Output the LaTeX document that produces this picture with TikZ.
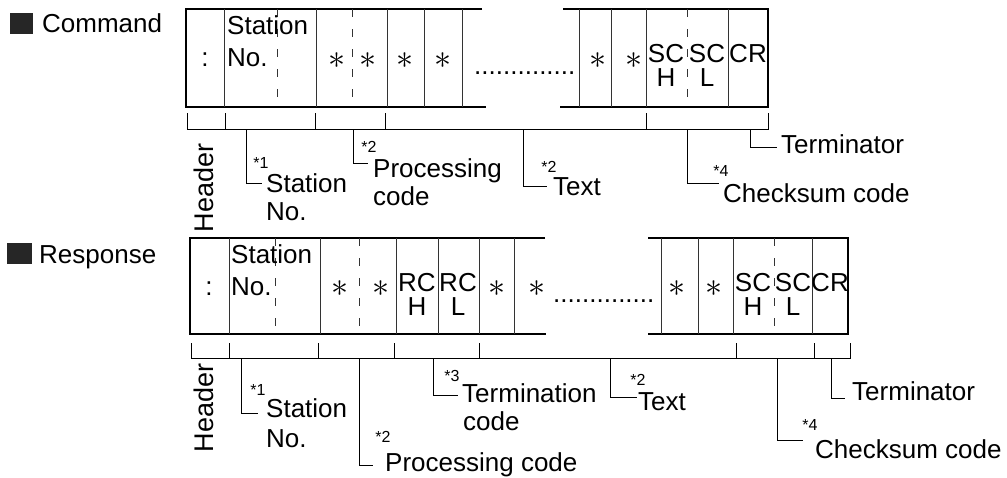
\documentclass[tikz,border=0pt]{standalone}
\usepackage{fontspec}
\setmainfont{Liberation Sans}
\usetikzlibrary{positioning}

\tikzset{
  frame/.style={line width=2.2pt},
  cellline/.style={line width=0.9pt, black!80},
  halfline/.style={line width=0.9pt, black!80, dash pattern=on 8pt off 12pt},
  bracketline/.style={line width=0.9pt},
  leader/.style={line width=0.9pt},
  txt/.style={font=\fontsize{26}{28}\selectfont, inner sep=0pt},
  lbl/.style={font=\fontsize{26}{28}\selectfont, inner sep=0pt, anchor=base west},
  pair/.style={font=\fontsize{26}{24}\selectfont, inner sep=0pt, align=center},
  side/.style={font=\fontsize{27}{28}\selectfont, inner sep=0pt, rotate=90},
  note/.style={font=\fontsize{16}{18}\selectfont, inner sep=0pt},
  star/.style={inner sep=0pt},
  legend/.style={fill=black!85},
}

\begin{document}
\begin{tikzpicture}[x=1pt, y=-1pt]
\useasboundingbox (0,0) rectangle (1007,477);

% ---------------- Command ----------------
\fill[legend] (10,13) rectangle (33,34);
\node[lbl] (cmdtitle) at (42,32) {Command};

% Frame
\draw[frame] (482,9) -- (186,9) -- (186,107) -- (486,107);
\draw[frame] (563,9) -- (768,9) -- (768,107) -- (560,107);
\foreach \x in {224,316,387,424,462,579,611,646,728} {
  \draw[cellline] (\x,9) -- (\x,107);
}
\foreach \x in {277,352,687} {
  \draw[halfline] (\x,9) -- (\x,107);
}

% Cell contents
\node[txt] (ccolon) at (205,60) {:};
\node[lbl] (cstation) at (227,34) {Station};
\node[lbl] (cno) at (227,66) {No.};
\foreach \x [count=\i] in {337,368,405,443,598,634} {
  \node[star] (cast\i) at (\x,61) {\scalebox{3.4}{$\ast$}};
}
\node[lbl] (cdots) at (474,74) {..............};
\node[pair] (csch) at (666,65) {SC\\H};
\node[pair] (cscl) at (707,65) {SC\\L};
\node[txt] (ccr) at (748,54) {CR};

% Bracket
\draw[bracketline] (187,113) -- (187,129) -- (768,129) -- (768,113);
\foreach \x in {225,315,385,646} {
  \draw[bracketline] (\x,113) -- (\x,129);
}

% Labels
\node[side] (chead) at (204,188) {Header};

\coordinate (cstntap) at (246,129);
\coordinate (cstnend) at (262,183);
\draw[leader] (cstntap) |- (cstnend);
\node[note] (cstnnote) at (261,163) {*1};
\node[lbl] (cstnlbl) at (266,192) {Station};
\node[lbl] (cstnlblb) at (266,220) {No.};

\coordinate (cproctap) at (353,129);
\coordinate (cprocend) at (368,163);
\draw[leader] (cproctap) |- (cprocend);
\node[note] (cprocnote) at (369,147) {*2};
\node[lbl] (cproclbl) at (373,177) {Processing};
\node[lbl] (cproclblb) at (373,205) {code};

\coordinate (ctexttap) at (523,129);
\coordinate (ctextend) at (547,186);
\draw[leader] (ctexttap) |- (ctextend);
\node[note] (ctextnote) at (549,167) {*2};
\node[lbl] (ctextlbl) at (553,195) {Text};

\coordinate (cchktap) at (687,129);
\coordinate (cchkend) at (719,183);
\draw[leader] (cchktap) |- (cchkend);
\node[note] (cchknote) at (721,171) {*4};
\node[lbl] (cchklbl) at (723,202) {Checksum code};

\coordinate (ctermtap) at (750,129);
\coordinate (ctermend) at (777,147);
\draw[leader] (ctermtap) |- (ctermend);
\node[lbl] (ctermlbl) at (781,153) {Terminator};

% ---------------- Response ----------------
\fill[legend] (7,243) rectangle (32,264);
\node[lbl] (restitle) at (39,263) {Response};

% Frame
\draw[frame] (545,238) -- (190,238) -- (190,334) -- (546,334);
\draw[frame] (648,238) -- (848,238) -- (848,334) -- (648,334);
\foreach \x in {229,320,396,438,479,514,661,698,733,812} {
  \draw[cellline] (\x,238) -- (\x,334);
}
\foreach \x in {275,359,774} {
  \draw[halfline] (\x,238) -- (\x,334);
}

% Cell contents
\node[txt] (rcolon) at (209,289) {:};
\node[lbl] (rstation) at (231,263) {Station};
\node[lbl] (rno) at (231,295) {No.};
\foreach \x [count=\i] in {340,381,497,537,677,714} {
  \node[star] (rast\i) at (\x,289) {\scalebox{3.4}{$\ast$}};
}
\node[pair] (rrch) at (417,294) {RC\\H};
\node[pair] (rrcl) at (458,294) {RC\\L};
\node[lbl] (rdots) at (553,302) {..............};
\node[pair] (rsch) at (753,294) {SC\\H};
\node[pair] (rscl) at (793,294) {SC\\L};
\node[txt] (rcr) at (830,283) {CR};

% Bracket
\draw[bracketline] (191,343) -- (191,358) -- (850,358) -- (850,343);
\foreach \x in {229,318,394,479,736,814} {
  \draw[bracketline] (\x,343) -- (\x,358);
}

% Labels
\node[side] (rhead) at (204,408) {Header};

\coordinate (rstntap) at (241,358);
\coordinate (rstnend) at (258,413);
\draw[leader] (rstntap) |- (rstnend);
\node[note] (rstnnote) at (258,390) {*1};
\node[lbl] (rstnlbl) at (266,417) {Station};
\node[lbl] (rstnlblb) at (266,447) {No.};

\coordinate (rproctap) at (359,358);
\coordinate (rprocend) at (373,465);
\draw[leader] (rproctap) |- (rprocend);
\node[note] (rprocnote) at (383,437) {*2};
\node[lbl] (rproclbl) at (385,471) {Processing code};

\coordinate (rtermctap) at (433,358);
\coordinate (rtermcend) at (458,395);
\draw[leader] (rtermctap) |- (rtermcend);
\node[note] (rtermcnote) at (452,376) {*3};
\node[lbl] (rtermclbl) at (462,402) {Termination};
\node[lbl] (rtermclblb) at (463,430) {code};

\coordinate (rtexttap) at (610,358);
\coordinate (rtextend) at (637,397);
\draw[leader] (rtexttap) |- (rtextend);
\node[note] (rtextnote) at (638,380) {*2};
\node[lbl] (rtextlbl) at (638,410) {Text};

\coordinate (rchktap) at (777,358);
\coordinate (rchkend) at (803,440);
\draw[leader] (rchktap) |- (rchkend);
\node[note] (rchknote) at (810,425) {*4};
\node[lbl] (rchklbl) at (815,458) {Checksum code};

\coordinate (rtermtap) at (831,358);
\coordinate (rtermend) at (845,398);
\draw[leader] (rtermtap) |- (rtermend);
\node[lbl] (rtermlbl) at (852,400) {Terminator};
\end{tikzpicture}
\end{document}
